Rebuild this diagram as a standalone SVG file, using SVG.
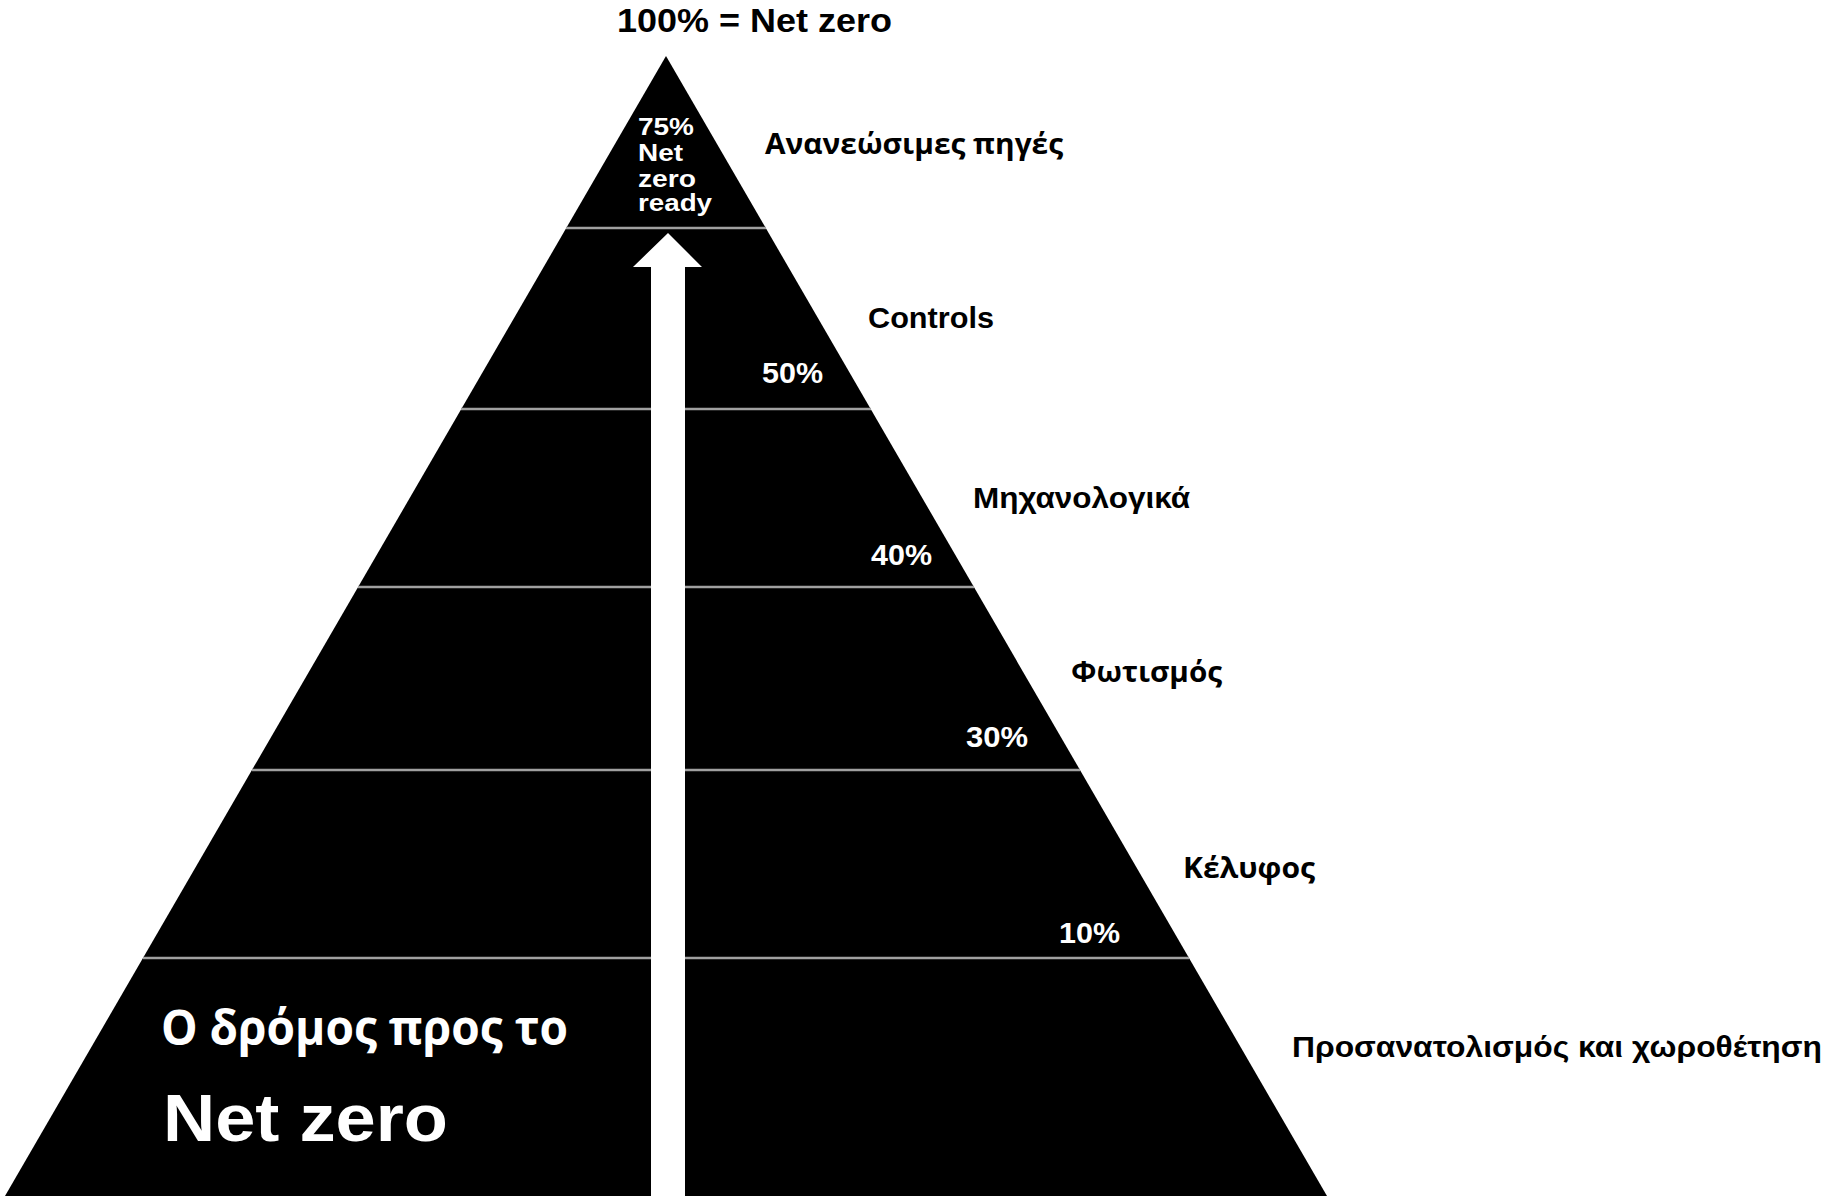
<svg xmlns="http://www.w3.org/2000/svg" width="1829" height="1196" viewBox="0 0 1829 1196">
<style>
.lbl{font-family:"Liberation Sans",Arial,sans-serif;font-weight:bold;fill:#000}
.lblg{font-family:"Open Sans","Noto Sans",sans-serif;font-weight:bold;fill:#000}
.w{font-family:"Liberation Sans",Arial,sans-serif;font-weight:bold;fill:#fff}
.wg{font-family:"Open Sans","Noto Sans",sans-serif;font-weight:bold;fill:#fff}
.sep{stroke:#a0a0a0;stroke-width:2.5}
</style>
<rect width="1829" height="1196" fill="#fff"/>
<g id="pyramid">
<polygon points="666,56 1327,1196 5,1196" fill="#000"/>
</g>
<g id="levels">
<line class="sep" x1="566" y1="228" x2="766" y2="228"/>
<line class="sep" x1="461" y1="409" x2="871" y2="409"/>
<line class="sep" x1="358" y1="587" x2="974" y2="587"/>
<line class="sep" x1="252" y1="770" x2="1080" y2="770"/>
<line class="sep" x1="143" y1="958" x2="1189" y2="958"/>
</g>
<g id="connectors">
<polygon points="668,233 702,267 685,267 685,1196 651,1196 651,267 633,267" fill="#fff"/>
</g>
<g id="title">
<text class="lbl" x="617" y="32" font-size="33" textLength="275" lengthAdjust="spacingAndGlyphs">100% = Net zero</text>
</g>
<g id="top-level">
<text class="w" x="638" y="135" font-size="23" textLength="56" lengthAdjust="spacingAndGlyphs">75%</text>
<text class="w" x="638" y="161" font-size="23" textLength="45" lengthAdjust="spacingAndGlyphs">Net</text>
<text class="w" x="638" y="187" font-size="23" textLength="58" lengthAdjust="spacingAndGlyphs">zero</text>
<text class="w" x="638" y="211" font-size="23" textLength="74" lengthAdjust="spacingAndGlyphs">ready</text>
</g>
<g id="percentages">
<text class="w" x="762" y="383" font-size="30" textLength="61" lengthAdjust="spacingAndGlyphs">50%</text>
<text class="w" x="871" y="565" font-size="30" textLength="61" lengthAdjust="spacingAndGlyphs">40%</text>
<text class="w" x="966" y="747" font-size="30" textLength="62" lengthAdjust="spacingAndGlyphs">30%</text>
<text class="w" x="1059" y="943" font-size="30" textLength="61" lengthAdjust="spacingAndGlyphs">10%</text>
</g>
<g id="renewables"><text class="lblg" x="765" y="154" font-size="28" textLength="298" lengthAdjust="spacingAndGlyphs">Ανανεώσιμες πηγές</text></g>
<g id="controls"><text class="lbl" x="868" y="328" font-size="30" textLength="126" lengthAdjust="spacingAndGlyphs">Controls</text></g>
<g id="mechanical"><text class="lbl" x="973" y="508" font-size="29" textLength="217" lengthAdjust="spacingAndGlyphs">Μηχανολογικά</text></g>
<g id="lighting"><text class="lblg" x="1071" y="682" font-size="29" textLength="151" lengthAdjust="spacingAndGlyphs">Φωτισμός</text></g>
<g id="envelope"><text class="lblg" x="1183" y="878" font-size="29" textLength="132" lengthAdjust="spacingAndGlyphs">Κέλυφος</text></g>
<g id="orientation"><text class="lbl" x="1292" y="1057" font-size="30" textLength="530" lengthAdjust="spacingAndGlyphs">Προσανατολισμός και χωροθέτηση</text></g>
<g id="caption">
<text class="wg" x="161" y="1045" font-size="49" textLength="407" lengthAdjust="spacingAndGlyphs">Ο δρόμος προς το</text>
<text class="w" x="163" y="1141" font-size="67" textLength="285" lengthAdjust="spacingAndGlyphs">Net zero</text>
</g>
</svg>
